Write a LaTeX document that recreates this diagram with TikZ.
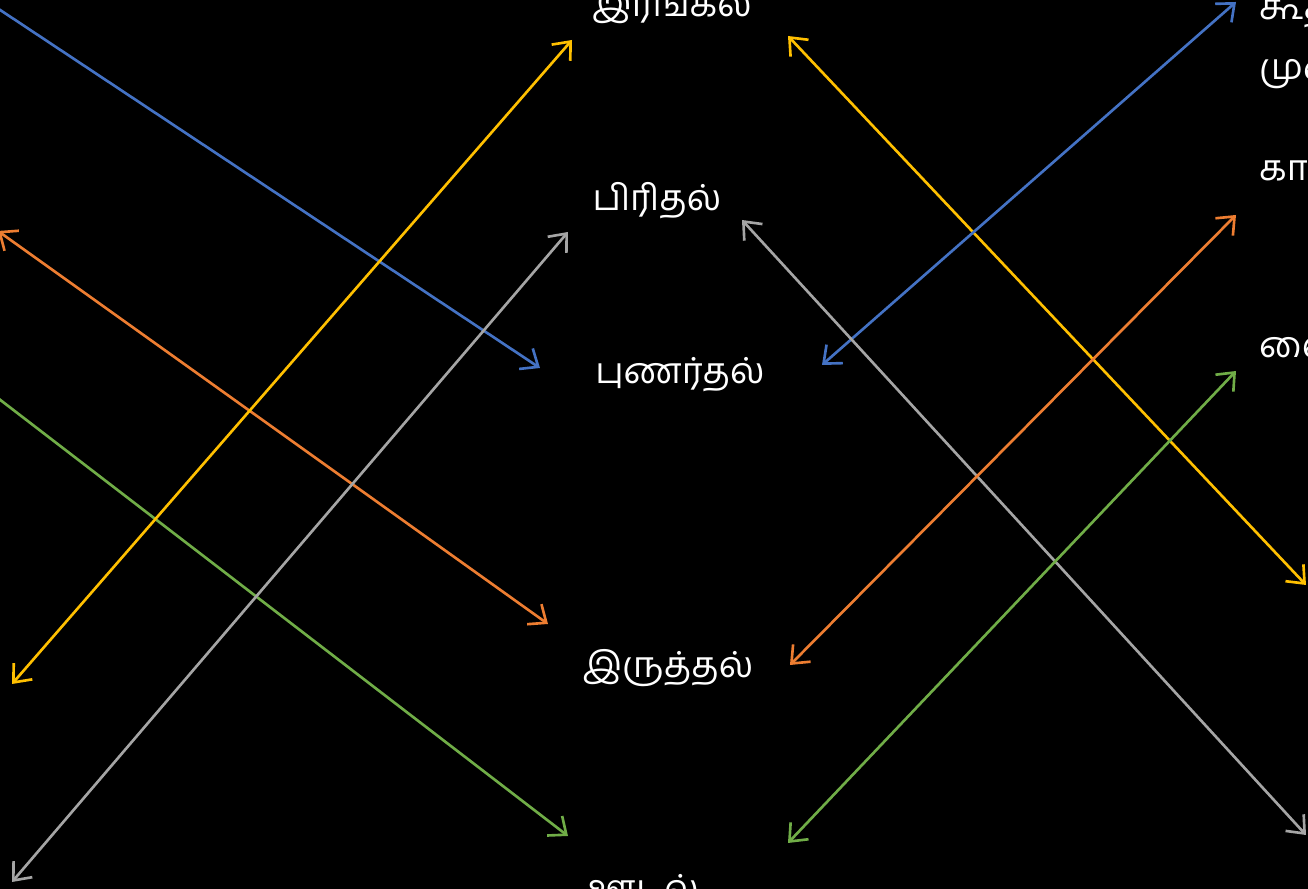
\documentclass[tikz,border=0pt]{standalone}
\usepackage{fontspec}
\usepackage{xcolor}
\usepackage{tikz}
\usetikzlibrary{arrows.meta, positioning}
\newfontfamily\tamilfont[Script=Tamil]{Hind Madurai}
\definecolor{azul}{RGB}{68, 114, 196}
\definecolor{naranja}{RGB}{237, 125, 49}
\definecolor{gris}{RGB}{165, 165, 165}
\definecolor{amarillo}{RGB}{255, 192, 0}
\definecolor{verde}{RGB}{112, 173, 71}

\begin{document}
\begin{tikzpicture}[x=0.01cm, y=-0.01cm,
    word/.style={text=white, font=\tamilfont\fontsize{10.2}{12}\selectfont, inner sep=1pt},
    season/.style={word, anchor=west},
    link/.style={{Straight Barb[length=4.2pt,width=7pt]}-{Straight Barb[length=4.2pt,width=7pt]}, line width=0.75pt}
]
\fill[black] (0,0) rectangle (1308,889);
\useasboundingbox (0,0) rectangle (1308,889);
\clip (0,0) rectangle (1308,889);
% middle column
\node (irangal) [word] at (672,6) {இரங்கல்};
\node (piridhal) [word] at (657,201) {பிரிதல்};
\node (punardhal) [word] at (680,375) {புணர்தல்};
\node (iruththal) [word] at (668,668) {இருத்தல்};
\node (oodal) [word, anchor=west] at (583,888) {ஊடல்};
% right column
\node (koodhir) [season] at (1255,10) {கூதிர்,};
\node (munpani) [season] at (1255,70) {முன்பனி};
\node (kaar) [season] at (1255,171) {கார்};
\node (vaigarai) [season] at (1255,352) {வைகறை};
% arrow ends
\coordinate (b1) at (-30,-10);   \coordinate (b2) at (540,368);
\coordinate (o1) at (-2,231);    \coordinate (o2) at (548,624);
\coordinate (g1) at (-40,369);   \coordinate (g2) at (568,836);
\coordinate (y1) at (12,684);    \coordinate (y2) at (572,40);
\coordinate (r1) at (12,882);    \coordinate (r2) at (568,232);
\coordinate (y3) at (788,36);    \coordinate (y4) at (1306,585);
\coordinate (b3) at (822,365);   \coordinate (b4) at (1236,2);
\coordinate (r3) at (742,220);   \coordinate (r4) at (1306,835);
\coordinate (o3) at (790,665);   \coordinate (o4) at (1236,215);
\coordinate (g3) at (788,843);   \coordinate (g4) at (1236,371);
% left links
\draw [link, azul] (b1) -- (b2);
\draw [link, naranja] (o1) -- (o2);
\draw [link, verde] (g1) -- (g2);
\draw [link, amarillo] (y1) -- (y2);
\draw [link, gris] (r1) -- (r2);
% right links
\draw [link, amarillo] (y3) -- (y4);
\draw [link, azul] (b3) -- (b4);
\draw [link, gris] (r3) -- (r4);
\draw [link, naranja] (o3) -- (o4);
\draw [link, verde] (g3) -- (g4);
\end{tikzpicture}
\end{document}
